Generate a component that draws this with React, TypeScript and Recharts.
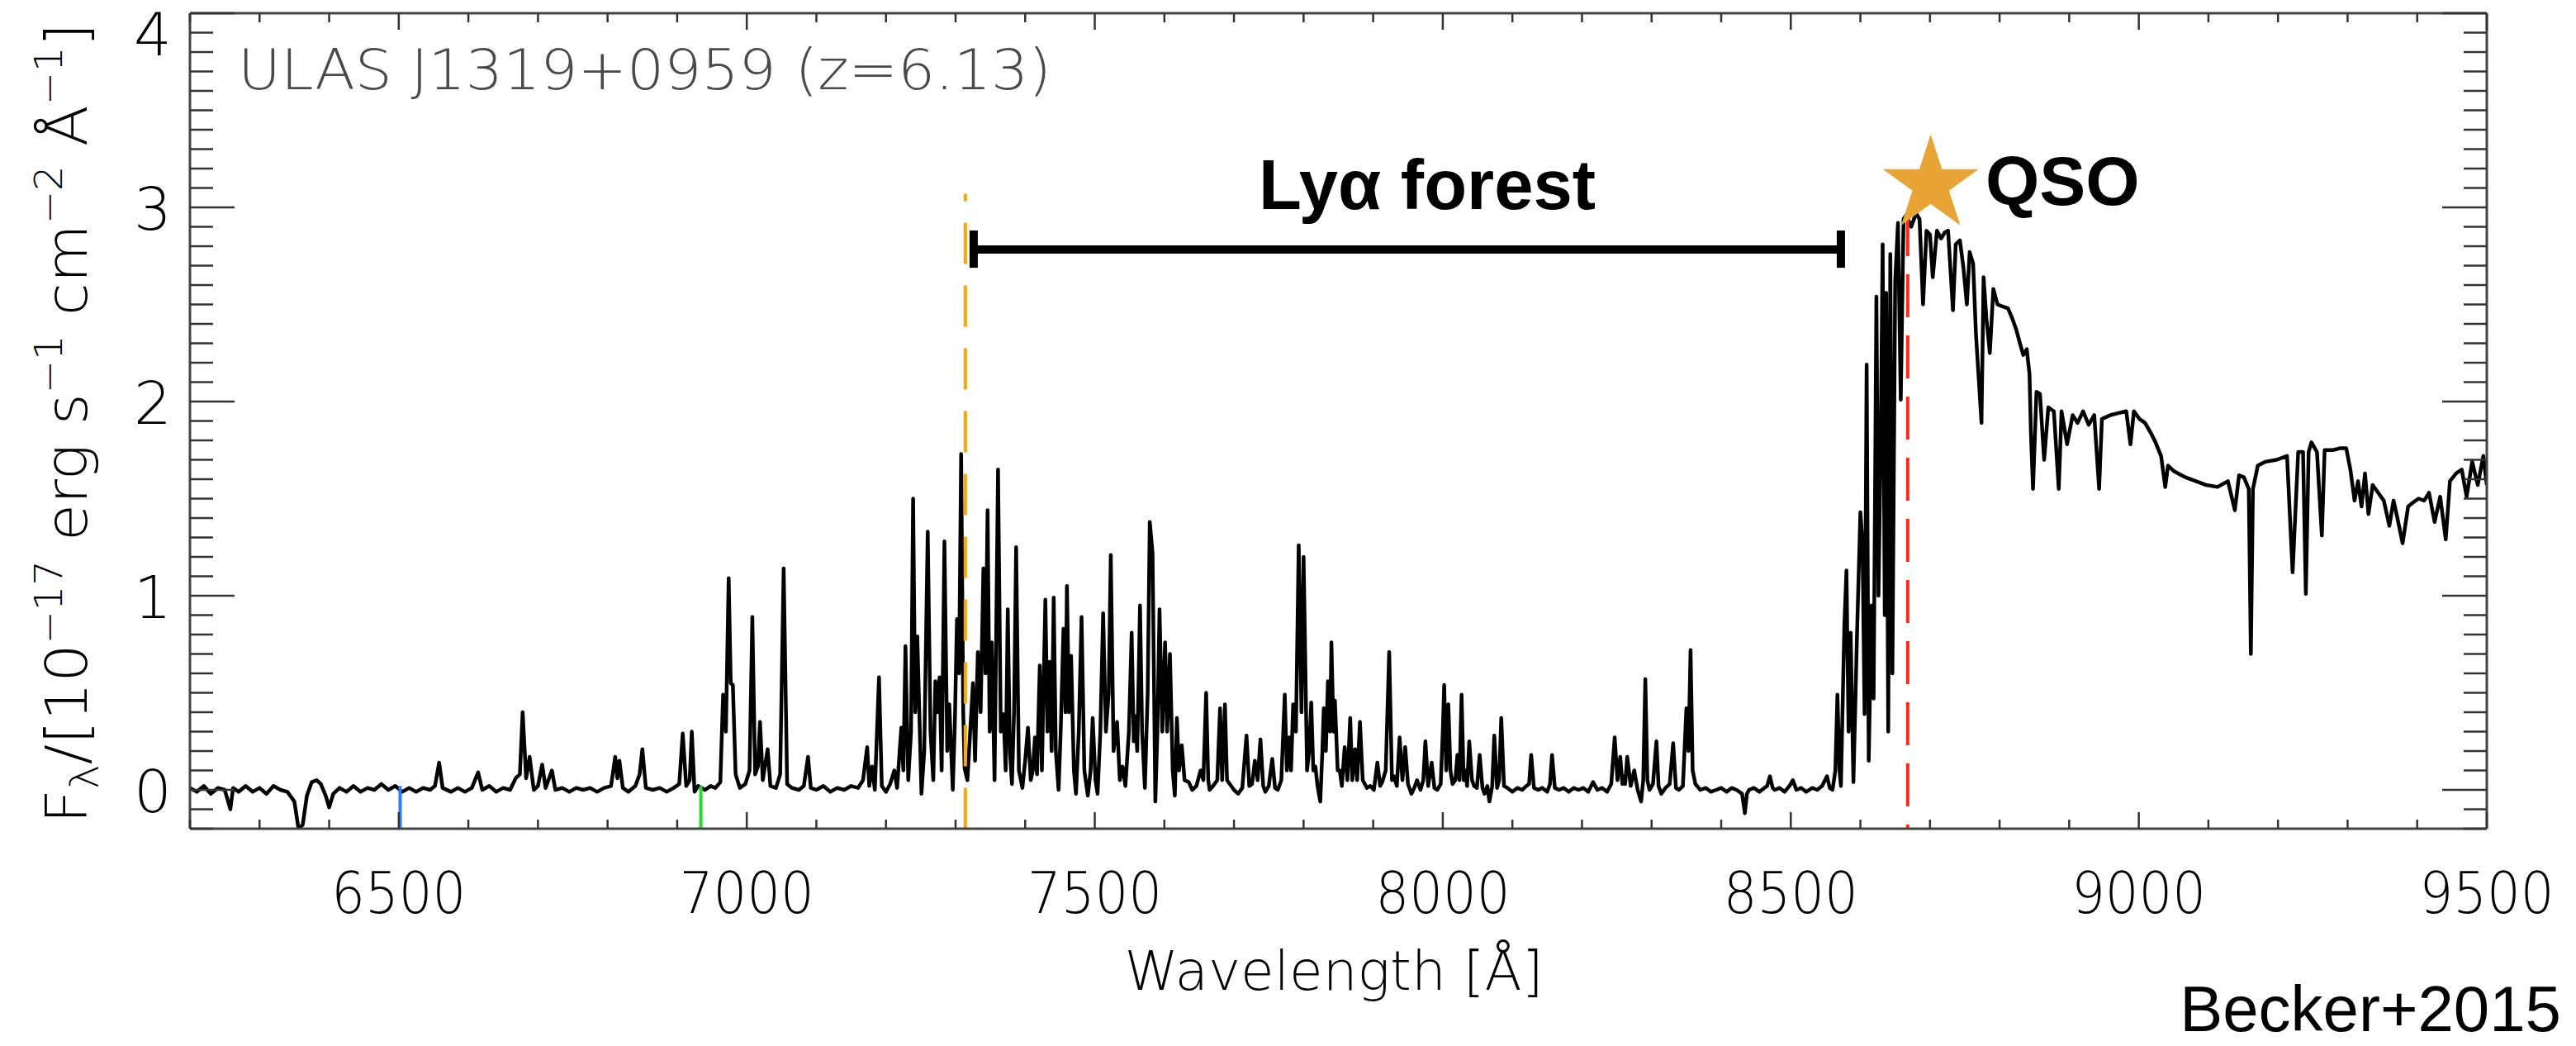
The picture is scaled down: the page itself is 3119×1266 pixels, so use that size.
import React from 'react';
import { LineChart, Line, XAxis, YAxis, ReferenceLine, ReferenceDot } from 'recharts';

const blueSide: [number, number][] = [
  [6200, 0.01], [6210, -0.01], [6220, 0.02], [6230, -0.02], [6240, 0.01], [6250, 0.0], [6258, -0.1],
  [6262, 0.01], [6270, -0.01], [6280, 0.02], [6290, -0.01], [6300, 0.01], [6310, -0.02], [6320, 0.02],
  [6330, 0.0], [6340, -0.01], [6350, -0.06], [6356, -0.2], [6362, -0.18], [6368, -0.03], [6375, 0.04],
  [6382, 0.05], [6388, 0.03], [6395, -0.03], [6400, -0.09], [6406, -0.02], [6415, 0.01], [6425, -0.01],
  [6435, 0.02], [6445, -0.01], [6455, 0.01], [6465, 0.0], [6475, 0.03], [6485, 0.0], [6495, 0.02],
  [6505, -0.01], [6515, 0.01], [6525, -0.01], [6535, 0.01], [6545, 0.0], [6552, 0.02], [6558, 0.14],
  [6563, 0.01], [6575, -0.01], [6585, 0.01], [6595, -0.01], [6605, 0.01], [6614, 0.09], [6620, 0.0],
  [6630, 0.02], [6640, -0.01], [6650, 0.01], [6660, 0.0], [6668, 0.06], [6674, 0.08], [6678, 0.4],
  [6683, 0.06], [6688, 0.17], [6694, 0.0], [6700, 0.02], [6706, 0.13], [6711, 0.01], [6720, 0.1],
  [6725, 0.0], [6735, 0.01], [6745, -0.01], [6755, 0.01], [6765, 0.0], [6775, 0.01], [6785, -0.01],
  [6795, 0.01], [6805, 0.02], [6811, 0.17], [6814, 0.06], [6817, 0.15], [6822, 0.01], [6830, -0.01],
  [6840, 0.02], [6846, 0.08], [6850, 0.21], [6855, 0.01], [6865, 0.0], [6875, 0.01], [6885, -0.01],
  [6895, 0.01], [6903, 0.03], [6908, 0.29], [6913, 0.02], [6918, 0.05], [6921, 0.3], [6925, -0.01],
  [6930, 0.02], [6940, 0.0], [6948, 0.02], [6955, 0.01], [6962, 0.04], [6966, 0.49], [6970, 0.3],
  [6974, 1.09], [6977, 0.55], [6980, 0.54], [6984, 0.08], [6990, 0.01], [6998, 0.03], [7004, 0.1],
  [7008, 0.89], [7012, 0.08], [7016, 0.12], [7019, 0.35], [7023, 0.05], [7030, 0.21], [7034, 0.02],
  [7042, 0.01], [7048, 0.08], [7053, 1.14], [7058, 0.03], [7065, 0.01], [7075, 0.0], [7082, 0.02],
  [7088, 0.17], [7092, 0.01], [7100, 0.0], [7110, 0.02], [7120, -0.01], [7130, 0.01], [7140, 0.0],
  [7150, 0.02], [7160, 0.01], [7167, 0.05],
];

const forest: [number, number][] = [
  [7173, 0.22], [7176, 0.02], [7180, 0.12], [7184, 0.0], [7190, 0.58], [7194, 0.02], [7200, -0.01],
  [7206, 0.03], [7212, 0.1], [7216, 0.01], [7222, 0.32], [7225, 0.1], [7228, 0.74], [7232, 0.05],
  [7236, 0.3], [7239, 1.5], [7242, 0.4], [7245, 0.79], [7251, -0.02], [7255, 0.2], [7260, 1.33],
  [7264, 0.3], [7268, 0.05], [7271, 0.56], [7274, 0.4], [7277, 0.58], [7280, 0.1], [7284, 1.28],
  [7288, 0.2], [7291, 0.44], [7296, 0.0], [7299, 0.35], [7302, 0.88], [7305, 0.6], [7308, 1.73],
  [7311, 0.4], [7313, 0.11], [7317, 0.05], [7321, 0.3], [7325, 0.55], [7328, 0.15], [7332, 0.71],
  [7336, 0.4], [7340, 1.14], [7343, 0.6], [7346, 1.44], [7349, 0.3], [7352, 0.76], [7356, 0.05],
  [7361, 1.65], [7365, 0.3], [7369, 0.39], [7372, 0.1], [7375, 0.93], [7378, 0.2], [7381, 0.03],
  [7384, 0.4], [7387, 1.25], [7391, 0.1], [7396, 0.01], [7400, 0.15], [7404, 0.32], [7408, 0.05],
  [7411, 0.1], [7414, 0.27], [7417, 0.08], [7421, 0.64], [7424, 0.1], [7429, 0.98], [7432, 0.3],
  [7435, 0.66], [7438, 0.2], [7441, 0.99], [7444, 0.2], [7448, 0.0], [7451, 0.3], [7455, 0.83],
  [7458, 0.4], [7460, 1.05], [7463, 0.4], [7466, 0.69], [7470, 0.1], [7473, -0.02], [7477, 0.3],
  [7481, 0.89], [7485, 0.1], [7490, -0.03], [7494, 0.1], [7497, 0.37], [7501, 0.05], [7504, -0.02],
  [7508, 0.3], [7512, 0.91], [7516, 0.3], [7520, 0.5], [7523, 1.21], [7527, 0.2], [7532, 0.35],
  [7536, 0.05], [7540, 0.12], [7544, 0.02], [7549, 0.3], [7553, 0.81], [7556, 0.25], [7558, 0.38],
  [7561, 0.2], [7565, 0.95], [7568, 0.3], [7572, 0.01], [7576, 0.5], [7579, 1.38], [7583, 1.22],
  [7587, -0.06], [7590, 0.3], [7593, 0.93], [7597, 0.3], [7601, 0.76], [7604, 0.3], [7608, 0.7],
  [7612, 0.1], [7615, -0.03], [7618, 0.37], [7621, 0.1], [7625, 0.23], [7629, 0.05], [7635, 0.04],
  [7640, 0.0], [7646, 0.02], [7652, 0.1], [7656, 0.05], [7660, 0.5], [7663, 0.05], [7665, 0.0],
  [7670, 0.02], [7676, 0.05], [7680, 0.42], [7683, 0.05], [7687, 0.44], [7690, 0.05], [7694, 0.03],
  [7700, 0.0], [7706, -0.02], [7712, 0.01], [7718, 0.28], [7722, 0.02], [7726, 0.03], [7730, 0.15],
  [7734, 0.05], [7738, 0.26], [7742, 0.02], [7745, -0.01], [7750, 0.02], [7755, 0.16], [7759, 0.01],
  [7763, 0.0], [7768, 0.05], [7773, 0.49], [7776, 0.1], [7779, 0.27], [7782, 0.1], [7785, 0.44],
  [7789, 0.3], [7793, 1.26], [7797, 0.4], [7800, 1.2], [7805, 0.1], [7808, 0.2], [7811, 0.45],
  [7814, 0.1], [7817, 0.12], [7820, 0.02], [7824, -0.06], [7827, 0.2], [7829, 0.42], [7832, 0.2],
  [7835, 0.56], [7838, 0.3], [7840, 0.76], [7843, 0.3], [7845, 0.46], [7849, 0.1], [7852, 0.1],
  [7855, 0.02], [7859, 0.22], [7863, 0.05], [7867, 0.37], [7870, 0.05], [7874, 0.21], [7877, 0.05],
  [7881, 0.35], [7885, 0.05], [7891, 0.01], [7896, 0.02], [7901, 0.0], [7906, 0.14], [7910, 0.02],
  [7913, 0.04], [7918, 0.1], [7923, 0.71], [7927, 0.05], [7930, 0.07], [7934, 0.02], [7938, 0.27],
  [7942, 0.05], [7946, 0.22], [7950, 0.03], [7955, -0.02], [7959, 0.01], [7963, 0.05], [7968, 0.0],
  [7972, 0.05], [7975, 0.25], [7979, 0.02], [7984, 0.14], [7988, 0.01], [7992, 0.0], [7997, 0.03],
  [8000, 0.3], [8002, 0.54], [8005, 0.1], [8008, 0.44], [8011, 0.1], [8014, 0.03], [8018, 0.05],
  [8021, 0.18], [8024, 0.05], [8027, 0.49], [8030, 0.05], [8032, 0.1], [8035, 0.02], [8038, 0.25],
  [8042, 0.05], [8045, 0.02], [8049, 0.01], [8053, 0.18], [8057, 0.01], [8060, -0.02], [8064, 0.02],
  [8067, -0.06], [8071, 0.02], [8074, 0.28], [8078, 0.01], [8081, 0.05], [8084, 0.37], [8088, 0.02],
  [8093, 0.01], [8100, -0.01], [8107, 0.01], [8114, 0.0], [8120, 0.02], [8124, 0.03], [8127, 0.18],
  [8131, 0.01], [8137, 0.0], [8143, 0.01], [8150, -0.01], [8154, 0.03], [8157, 0.18], [8161, 0.01],
  [8167, 0.0], [8174, 0.01], [8181, -0.01], [8188, 0.01], [8195, 0.0], [8202, 0.01], [8209, -0.01],
  [8216, 0.04], [8222, 0.0], [8229, 0.01], [8236, -0.01], [8242, 0.03], [8247, 0.27], [8251, 0.05],
  [8255, 0.17], [8258, 0.03], [8260, 0.07], [8262, 0.03], [8265, 0.17], [8270, 0.02], [8275, 0.1],
  [8280, 0.0], [8285, -0.06], [8288, 0.05], [8291, 0.57], [8294, 0.05], [8297, 0.0], [8302, 0.03],
  [8307, 0.25], [8310, 0.02], [8314, -0.02], [8320, 0.01], [8326, 0.03], [8331, 0.24], [8335, 0.01],
  [8339, 0.0], [8345, 0.02], [8350, 0.42], [8353, 0.2], [8356, 0.72], [8359, 0.1], [8363, 0.03],
  [8370, 0.0], [8378, 0.01], [8385, -0.01], [8393, 0.0], [8400, 0.01], [8408, -0.01], [8415, 0.01],
  [8422, 0.0], [8430, -0.02], [8434, -0.12], [8437, -0.02], [8440, 0.0], [8447, 0.01], [8455, -0.01],
  [8462, 0.01], [8466, 0.02], [8470, 0.07], [8474, 0.01], [8477, 0.0], [8484, 0.01], [8491, -0.01],
  [8498, 0.02], [8503, 0.05], [8508, 0.0], [8515, 0.01], [8522, -0.01], [8531, 0.01], [8538, 0.0],
  [8545, 0.02], [8552, 0.07], [8556, 0.01], [8560, 0.0], [8564, 0.1], [8567, 0.49], [8570, 0.1],
  [8572, 0.02],
];

const redSide: [number, number][] = [
  [8577, 0.85], [8580, 1.13], [8583, 0.3], [8586, 0.81], [8590, 0.04], [8595, 0.78], [8600, 1.43],
  [8603, 1.28], [8606, 0.39], [8609, 2.19], [8612, 0.15], [8616, 0.95], [8619, 0.47], [8623, 2.54],
  [8626, 1.0], [8629, 1.74], [8632, 2.81], [8635, 0.9], [8637, 2.56], [8640, 0.3], [8643, 2.76],
  [8646, 0.6], [8650, 2.62], [8654, 2.92], [8658, 2.01], [8662, 2.94], [8666, 2.96], [8673, 2.9],
  [8680, 2.97], [8685, 2.94], [8690, 2.5], [8695, 2.88], [8700, 2.86], [8704, 2.64], [8710, 2.88],
  [8716, 2.84], [8721, 2.87], [8726, 2.88], [8733, 2.47], [8737, 2.81], [8743, 2.83], [8748, 2.69],
  [8753, 2.5], [8757, 2.77], [8762, 2.71], [8766, 2.35], [8770, 2.12], [8774, 1.89], [8777, 2.64],
  [8781, 2.43], [8786, 2.25], [8791, 2.58], [8797, 2.5], [8804, 2.49], [8812, 2.48], [8818, 2.43],
  [8824, 2.37], [8830, 2.29], [8834, 2.24], [8839, 2.27], [8843, 2.14], [8845, 1.84], [8848, 1.55],
  [8853, 2.05], [8858, 2.04], [8864, 1.7], [8870, 1.97], [8878, 1.95], [8885, 1.55], [8889, 1.95],
  [8897, 1.78], [8905, 1.93], [8912, 1.89], [8920, 1.95], [8928, 1.88], [8936, 1.93], [8943, 1.55],
  [8947, 1.91], [8959, 1.93], [8970, 1.94], [8982, 1.95], [8988, 1.78], [8993, 1.95], [9001, 1.91],
  [9009, 1.89], [9017, 1.84], [9024, 1.79], [9032, 1.72], [9038, 1.56], [9042, 1.67], [9051, 1.64],
  [9067, 1.61], [9082, 1.59], [9097, 1.57], [9113, 1.56], [9128, 1.59], [9138, 1.44], [9144, 1.62],
  [9151, 1.61], [9158, 1.55], [9161, 0.7], [9164, 1.55], [9171, 1.67], [9182, 1.69], [9198, 1.7],
  [9213, 1.72], [9221, 1.12], [9229, 1.74], [9236, 1.74], [9240, 1.01], [9244, 1.74], [9248, 1.79],
  [9256, 1.74], [9263, 1.31], [9267, 1.75], [9279, 1.75], [9290, 1.76], [9298, 1.76], [9304, 1.65],
  [9310, 1.49], [9315, 1.59], [9320, 1.46], [9325, 1.63], [9330, 1.42], [9336, 1.57], [9344, 1.53],
  [9352, 1.49], [9360, 1.36], [9366, 1.49], [9371, 1.41], [9379, 1.27], [9387, 1.46], [9394, 1.48],
  [9402, 1.5], [9410, 1.49], [9417, 1.53], [9425, 1.38], [9433, 1.51], [9441, 1.29], [9447, 1.59],
  [9456, 1.63], [9464, 1.65], [9471, 1.51], [9479, 1.69], [9487, 1.57], [9495, 1.72], [9500, 1.57],
];

// marker wavelengths: Lyman limit, Ly-gamma, Ly-beta, Ly-alpha at z=6.13
const lymanLimit = 6502;
const lyGamma = 6934;
const lyBeta = 7314;
const lyAlpha = 8668;
const forestRange = [7326, 8572];
const qsoStar = { w: 8701, f: 3.117 };

const majorX = [6500, 7000, 7500, 8000, 8500, 9000, 9500];
const majorY = [0, 1, 2, 3, 4];

const xTicks: number[] = [];
for (let w = 6200; w <= 9500; w += 100) xTicks.push(w);
const yTicks: number[] = [];
for (let i = -2; i <= 40; i++) yTicks.push(i / 10);

const data = [...blueSide, ...forest, ...redSide].map(([w, f]) => ({ w, f }));

const tickColor = '#333';
const labelFont = "'DejaVu Sans', sans-serif";
const thin = 200;

const BottomTick = (props: any) => {
  const { x, y, payload } = props;
  const v = payload.value;
  const major = majorX.includes(v);
  return (
    <g>
      <line x1={x} x2={x} y1={y} y2={y - (major ? 20 : 11)} stroke={tickColor} strokeWidth={2.5} />
      {major && (
        <text x={x} y={y + 102} textAnchor="middle" fontFamily={labelFont} fontWeight={thin} fontSize={70}
          fill="#000" textLength={163} lengthAdjust="spacingAndGlyphs">
          {v}
        </text>
      )}
    </g>
  );
};

const TopTick = (props: any) => {
  const { x, y, payload } = props;
  const major = majorX.includes(payload.value);
  return <line x1={x} x2={x} y1={y} y2={y + (major ? 20 : 11)} stroke={tickColor} strokeWidth={2.5} />;
};

const LeftTick = (props: any) => {
  const { x, y, payload } = props;
  const v = payload.value;
  const major = Number.isInteger(v);
  return (
    <g>
      <line x1={x} x2={x + (major ? 54 : 28)} y1={y} y2={y} stroke={tickColor} strokeWidth={2.5} />
      {major && majorY.includes(v) && (
        <text x={x - 45} y={y + 27 + (v === 4 ? 24 : 0)} textAnchor="middle" fontFamily={labelFont}
          fontWeight={thin} fontSize={72} fill="#000">
          {v}
        </text>
      )}
    </g>
  );
};

const RightTick = (props: any) => {
  const { x, y, payload } = props;
  const major = Number.isInteger(payload.value);
  return <line x1={x} x2={x - (major ? 54 : 28)} y1={y} y2={y} stroke={tickColor} strokeWidth={2.5} />;
};

const starPath = (cx: number, cy: number, R: number) => {
  const r = R * 0.382;
  const pts: string[] = [];
  for (let i = 0; i < 10; i++) {
    const a = -Math.PI / 2 + (i * Math.PI) / 5;
    const rad = i % 2 === 0 ? R : r;
    pts.push(`${cx + rad * Math.cos(a)},${cy + rad * Math.sin(a)}`);
  }
  return `M${pts.join('L')}Z`;
};

const axisLine = { stroke: '#444', strokeWidth: 3 };

export default function App() {
  return (
    <div style={{ position: 'absolute', left: 0, top: 0, width: 3119, height: 1266, background: '#fff' }}>
      <LineChart width={3119} height={1266} data={data} margin={{ top: 15, right: 107, bottom: 262, left: 229 }}>
        <XAxis dataKey="w" type="number" domain={[6200, 9500]} allowDataOverflow ticks={xTicks} interval={0}
          height={1} tickSize={0} tickMargin={0} tickLine={false} axisLine={axisLine} tick={BottomTick} />
        <XAxis xAxisId="top" orientation="top" dataKey="w" type="number" domain={[6200, 9500]} allowDataOverflow
          ticks={xTicks} interval={0} height={1} tickSize={0} tickMargin={0} tickLine={false} axisLine={axisLine}
          tick={TopTick} />
        <YAxis type="number" domain={[-0.2, 4]} allowDataOverflow ticks={yTicks} interval={0} width={1}
          tickSize={0} tickMargin={0} tickLine={false} axisLine={axisLine} tick={LeftTick} />
        <YAxis yAxisId="right" orientation="right" type="number" domain={[-0.2, 4]} allowDataOverflow
          ticks={yTicks} interval={0} width={1} tickSize={0} tickMargin={0} tickLine={false} axisLine={axisLine}
          tick={RightTick} />
        <Line type="linear" dataKey="f" stroke="#000" strokeWidth={4.5} dot={false} isAnimationActive={false}
          strokeLinejoin="round" />
        <ReferenceLine segment={[{ x: lymanLimit, y: 0.02 }, { x: lymanLimit, y: -0.2 }]} stroke="#2f7bff" strokeWidth={4} />
        <ReferenceLine segment={[{ x: lyGamma, y: 0.02 }, { x: lyGamma, y: -0.2 }]} stroke="#22dd33" strokeWidth={4} />
        <ReferenceLine segment={[{ x: lyBeta, y: 3.07 }, { x: lyBeta, y: -0.2 }]} stroke="#ffa500" strokeWidth={4}
          strokeDasharray="50 26" strokeDashoffset={41} />
        <ReferenceLine segment={[{ x: lyAlpha, y: 2.97 }, { x: lyAlpha, y: -0.2 }]} stroke="#ff2a1a" strokeWidth={4}
          strokeDasharray="52 22" />
        <ReferenceLine segment={[{ x: forestRange[0], y: 2.783 }, { x: forestRange[1], y: 2.783 }]} stroke="#000" strokeWidth={10} />
        <ReferenceLine segment={[{ x: forestRange[0], y: 2.881 }, { x: forestRange[0], y: 2.689 }]} stroke="#000" strokeWidth={10} />
        <ReferenceLine segment={[{ x: forestRange[1], y: 2.881 }, { x: forestRange[1], y: 2.689 }]} stroke="#000" strokeWidth={10} />
        <ReferenceDot x={qsoStar.w} y={qsoStar.f} r={61}
          shape={(p: any) => <path d={starPath(p.cx, p.cy, 61)} fill="#e8a535" />} />
      </LineChart>
      <svg width={3119} height={1266} style={{ position: 'absolute', left: 0, top: 0, pointerEvents: 'none' }}>
        <text x={288} y={108} fontFamily={labelFont} fontWeight={thin} fontSize={68} fill="#4a4a4a" textLength={985}
          lengthAdjust="spacingAndGlyphs">
          ULAS J1319+0959 (z=6.13)
        </text>
        <text x={1728} y={253} textAnchor="middle" fontFamily="'Liberation Sans', Arial, sans-serif"
          fontWeight="bold" fontSize={85}>
          Lyα forest
        </text>
        <text x={2404} y={248} fontFamily="'Liberation Sans', Arial, sans-serif" fontWeight="bold" fontSize={84}>
          QSO
        </text>
        <text x={1615} y={1198} textAnchor="middle" fontFamily={labelFont} fontWeight={thin} fontSize={66} fill="#000"
          textLength={507} lengthAdjust="spacingAndGlyphs">
          Wavelength [Å]
        </text>
        <text transform="translate(105,997) rotate(-90)" x={0} y={0} fontFamily={labelFont} fontWeight={thin}
          fontSize={70} fill="#000" textLength={969} lengthAdjust="spacingAndGlyphs">
          F<tspan fontSize={48} dy={14}>λ</tspan>
          <tspan dy={-14}>/[10</tspan>
          <tspan fontSize={46} dy={-30}>−17</tspan>
          <tspan dy={30}> erg s</tspan>
          <tspan fontSize={46} dy={-30}>−1</tspan>
          <tspan dy={30}> cm</tspan>
          <tspan fontSize={46} dy={-30}>−2</tspan>
          <tspan dy={30}> Å</tspan>
          <tspan fontSize={46} dy={-30}>−1</tspan>
          <tspan dy={30}>]</tspan>
        </text>
        <text x={3101} y={1248} textAnchor="end" fontFamily="'Liberation Sans', Arial, sans-serif" fontSize={78}>
          Becker+2015
        </text>
      </svg>
    </div>
  );
}
